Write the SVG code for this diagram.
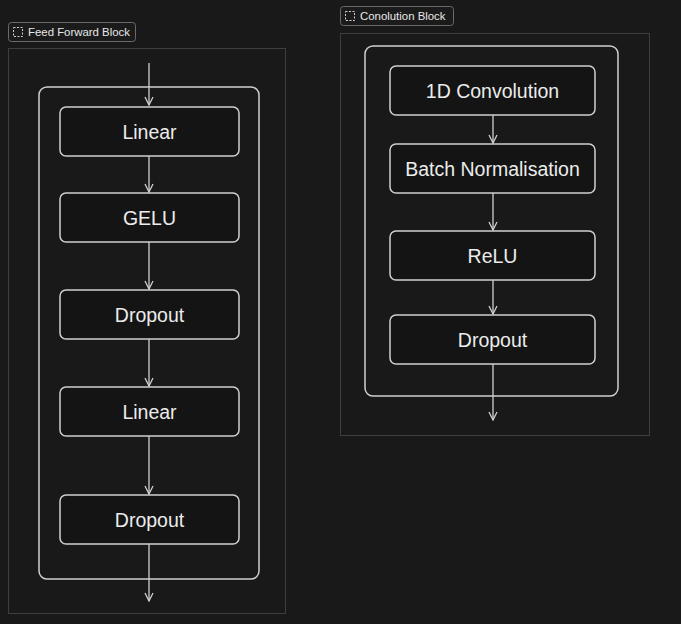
<svg xmlns="http://www.w3.org/2000/svg" width="681" height="624" viewBox="0 0 681 624">
<defs>
<style>
.frame{fill:none;stroke:#3e3e3e;stroke-width:1}
.tag{fill:#1b1b1b;stroke:#6a6a6a;stroke-width:1}
.tagt{font-family:"Liberation Sans",Arial,sans-serif;font-size:11.4px;fill:#e8e8e8}
.outer{fill:none;stroke:#cfcfcf;stroke-width:1.5}
.node{fill:#141414;stroke:#cfcfcf;stroke-width:1.5}
.nt{font-family:"Liberation Sans",Arial,sans-serif;font-size:19.5px;fill:#ececec;text-anchor:middle;dominant-baseline:central}
.edge{stroke:#cfcfcf;stroke-width:1.3;fill:none;marker-end:url(#ah)}
.icon{fill:none;stroke:#d0d0d0;stroke-width:1;stroke-dasharray:2 1.5}
</style>
<marker id="ah" viewBox="0 0 10 10" refX="9" refY="5" markerWidth="10" markerHeight="10" markerUnits="userSpaceOnUse" orient="auto">
<path d="M1,1 L9,5 L1,9" fill="none" stroke="#cfcfcf" stroke-width="1.3"/>
</marker>
</defs>
<rect width="681" height="624" fill="#191919"/>

<g id="ffb-frame">
<rect class="tag" x="8.5" y="22.5" width="127" height="19" rx="3"/>
<rect class="icon" x="13.5" y="27.5" width="9" height="9"/>
<text class="tagt" x="28" y="35.5">Feed Forward Block</text>
<rect class="frame" x="8.5" y="48.5" width="277" height="565"/>
<rect class="outer" x="39" y="87" width="220" height="492" rx="8"/>
</g>
<g id="ffb-linear1"><rect class="node" x="60" y="107" width="179" height="49" rx="6"/><text class="nt" x="149.5" y="131.5">Linear</text></g>
<g id="ffb-gelu"><rect class="node" x="60" y="193" width="179" height="49" rx="6"/><text class="nt" x="149.5" y="217.5">GELU</text></g>
<g id="ffb-dropout1"><rect class="node" x="60" y="290" width="179" height="49" rx="6"/><text class="nt" x="149.5" y="314.5">Dropout</text></g>
<g id="ffb-linear2"><rect class="node" x="60" y="387" width="179" height="49" rx="6"/><text class="nt" x="149.5" y="411.5">Linear</text></g>
<g id="ffb-dropout2"><rect class="node" x="60" y="495" width="179" height="49" rx="6"/><text class="nt" x="149.5" y="519.5">Dropout</text></g>

<g id="conv-frame">
<rect class="tag" x="340.5" y="6.5" width="113" height="19" rx="3"/>
<rect class="icon" x="345.5" y="11.5" width="9" height="9"/>
<text class="tagt" x="360" y="19.5">Conolution Block</text>
<rect class="frame" x="340.5" y="33.5" width="309" height="402"/>
<rect class="outer" x="365" y="46" width="253" height="350" rx="8"/>
</g>
<g id="conv-1d"><rect class="node" x="390" y="66" width="205" height="49" rx="6"/><text class="nt" x="492.5" y="90.5">1D Convolution</text></g>
<g id="conv-bn"><rect class="node" x="390" y="144" width="205" height="49" rx="6"/><text class="nt" x="492.5" y="168.5">Batch Normalisation</text></g>
<g id="conv-relu"><rect class="node" x="390" y="231" width="205" height="49" rx="6"/><text class="nt" x="492.5" y="255.5">ReLU</text></g>
<g id="conv-dropout"><rect class="node" x="390" y="315" width="205" height="49" rx="6"/><text class="nt" x="492.5" y="339.5">Dropout</text></g>

<g id="connectors">
<line class="edge" x1="149" y1="63" x2="149" y2="105"/>
<line class="edge" x1="149" y1="156" x2="149" y2="192"/>
<line class="edge" x1="149" y1="242" x2="149" y2="289"/>
<line class="edge" x1="149" y1="339" x2="149" y2="386"/>
<line class="edge" x1="149" y1="436" x2="149" y2="494"/>
<line class="edge" x1="149" y1="544" x2="149" y2="601"/>
<line class="edge" x1="493" y1="115" x2="493" y2="143"/>
<line class="edge" x1="493" y1="193" x2="493" y2="230"/>
<line class="edge" x1="493" y1="280" x2="493" y2="314"/>
<line class="edge" x1="493" y1="364" x2="493" y2="420"/>
</g>
</svg>
